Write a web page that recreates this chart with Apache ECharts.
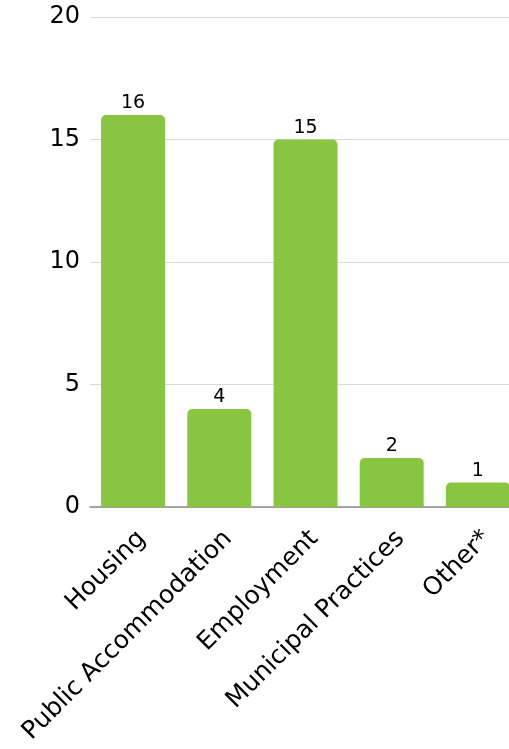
<!DOCTYPE html>
<html><head><meta charset="utf-8">
<script src="https://cdn.jsdelivr.net/npm/echarts@6/dist/echarts.min.js"></script>
<style>html,body{margin:0;padding:0;background:#fff}#c{width:509px;height:749px}</style>
</head><body><div id="c"></div>
<script>
const categories = ["Housing", "Public Accommodation", "Employment", "Municipal Practices", "Other*"];
const values = [16, 4, 15, 2, 1];
const yTicks = {min: 0, max: 20, interval: 5};
const FONT = "'DejaVu Sans', sans-serif";
const chart = echarts.init(document.getElementById('c'));
chart.setOption({
  animation: false,
  grid: {left: 90, width: 431, top: 17, height: 490, containLabel: false, outerBoundsMode: 'none'},
  xAxis: {
    type: 'category', data: categories,
    axisLine: {lineStyle: {color: '#8c8c8c', width: 1.5}},
    axisTick: {show: false},
    axisLabel: {rotate: 45, color: '#000', fontSize: 25, fontFamily: FONT, margin: 19, interval: 0,
      verticalAlign: 'top', align: 'right', hideOverlap: false}
  },
  yAxis: {
    type: 'value', min: yTicks.min, max: yTicks.max, interval: yTicks.interval,
    axisLine: {show: false}, axisTick: {show: false},
    splitLine: {lineStyle: {color: '#d9d9d9', width: 1}},
    axisLabel: {color: '#000', fontSize: 24, fontFamily: FONT, margin: 10, padding: [4, 0, 0, 0]}
  },
  series: [{
    type: 'bar', data: values, barWidth: 64,
    itemStyle: {color: '#88c540', borderRadius: [5, 5, 0, 0]},
    label: {show: true, position: 'top', distance: 2, color: '#000', fontSize: 19, fontFamily: FONT}
  }]
});
</script></body></html>
